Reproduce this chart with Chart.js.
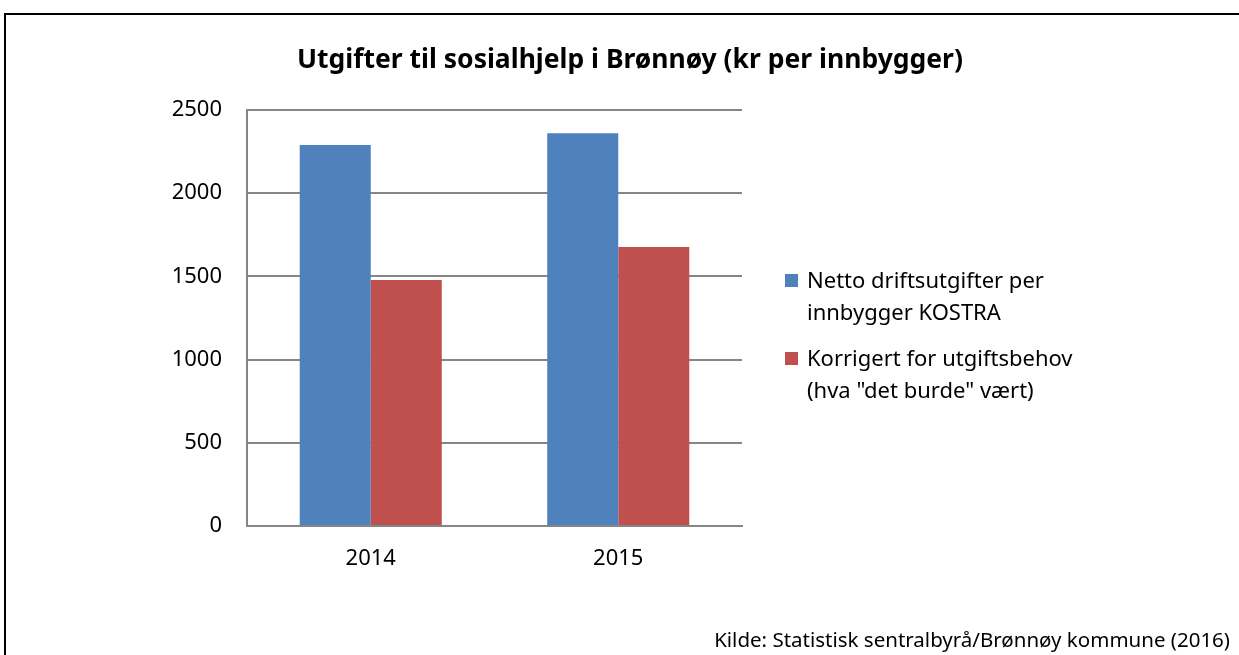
<!DOCTYPE html>
<html>
<head>
<meta charset="utf-8">
<script src="https://cdn.jsdelivr.net/npm/chart.js@4/dist/chart.umd.min.js"></script>
<style>
  html, body { margin: 0; padding: 0; background: #fff; overflow: hidden; }
  body { width: 1239px; height: 655px; position: relative; font-family: "Noto Sans", "Open Sans", sans-serif; color: #000; }
  #ramme { position: absolute; left: 4px; top: 13px; width: 1260px; height: 700px; border: 2px solid #000; box-sizing: border-box; }
  #graf { position: absolute; left: 0; top: 0; }
  #tittel { position: absolute; left: 0; width: 1260px; top: 40px; text-align: center; font-weight: bold; font-size: 26.5px; line-height: 36px; }
  #forklaring { position: absolute; left: 785px; top: 263px; font-size: 22px; line-height: 32px; }
  .post { position: relative; padding-left: 22px; margin-bottom: 14px; }
  .post span { position: absolute; left: 0; top: 11px; width: 13px; height: 13px; }
  #kilde { position: absolute; right: 9px; top: 624px; font-size: 20.5px; line-height: 30px; }
</style>
</head>
<body>
<div id="ramme"></div>
<canvas id="graf" width="1239" height="655"></canvas>
<div id="tittel">Utgifter til sosialhjelp i Brønnøy (kr per innbygger)</div>
<div id="forklaring"></div>
<div id="kilde">Kilde: Statistisk sentralbyrå/Brønnøy kommune (2016)</div>
<script>
// ======= Data =======
const aar = ['2014', '2015'];
const netto = [2290, 2360];
const korrigert = [1478, 1677];
const yTicks = [0, 500, 1000, 1500, 2000, 2500];

const serier = [
    { navn: ['Netto driftsutgifter per', 'innbygger KOSTRA'], farge: '#4f81bd', data: netto },
    { navn: ['Korrigert for utgiftsbehov', '(hva "det burde" vært)'], farge: '#c0504d', data: korrigert }
];

// ======= Forklaring (legend) =======
const legendEl = document.getElementById('forklaring');
serier.forEach(s => {
    const div = document.createElement('div');
    div.className = 'post';
    div.innerHTML = `<span style="background:${s.farge}"></span>${s.navn.join('<br>')}`;
    legendEl.appendChild(div);
});

// ======= Grafen =======
const ctx = document.getElementById('graf').getContext('2d');
new Chart(ctx, {
    type: 'bar',
    data: {
        labels: aar,
        datasets: serier.map(s => ({
            label: s.navn.join(' '),
            data: s.data,
            backgroundColor: s.farge,
            borderWidth: 0,
            barPercentage: 1,
            categoryPercentage: 0.574
        }))
    },
    options: {
        responsive: false,
        animation: false,
        layout: { padding: { top: 110, right: 497, bottom: 69, left: 0 } },
        plugins: {
            legend: { display: false },
            tooltip: { enabled: false }
        },
        scales: {
            x: {
                grid: { display: false, drawTicks: false },
                border: { color: '#868686', width: 2 },
                ticks: { color: '#000', font: { family: 'Noto Sans', size: 22 }, padding: 20 },
                afterFit: s => { s.height = 60; }
            },
            y: {
                min: 0,
                max: 2500,
                afterBuildTicks: s => { s.ticks = yTicks.map(v => ({ value: v })); },
                grid: { color: '#868686', lineWidth: 2, drawTicks: false },
                border: { color: '#868686', width: 2 },
                ticks: {
                    color: '#000',
                    font: { family: 'Noto Sans', size: 22 },
                    padding: 25,
                    callback: v => String(v)
                },
                afterFit: s => { s.width = 247; }
            }
        }
    }
});
</script>
</body>
</html>
